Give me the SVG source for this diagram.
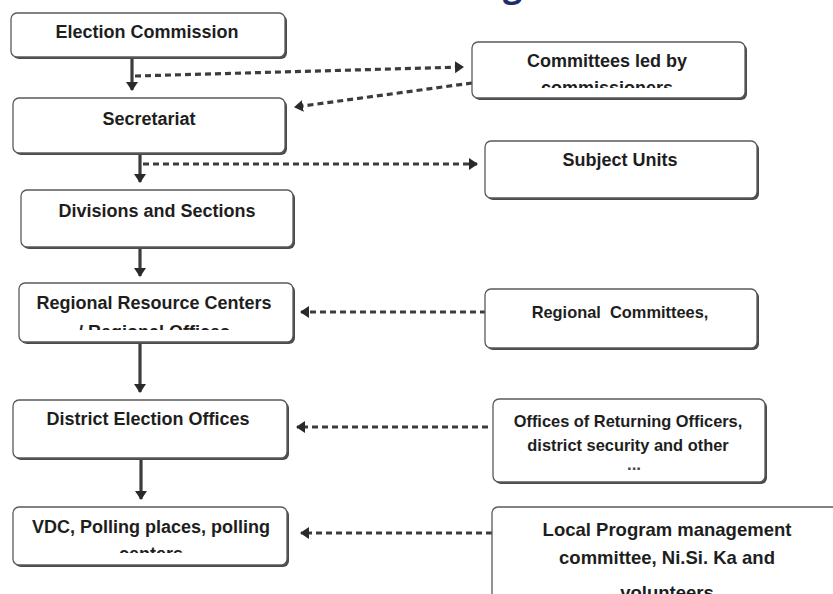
<svg xmlns="http://www.w3.org/2000/svg" width="833" height="594" viewBox="0 0 833 594">
<style>
.box{fill:#fff;stroke:#5a5a5a;stroke-width:1.3}
.sh{fill:#4a4a4a}
.t{font-family:"Liberation Sans",Arial,sans-serif;font-weight:bold;font-size:18px;fill:#1e1e1e;text-anchor:middle}
.sm{font-size:16.4px}
.big{font-size:18.5px}
.solid{stroke:#3c3c3c;stroke-width:3.2;fill:none}
.dash{stroke:#3c3c3c;stroke-width:3.2;fill:none;stroke-dasharray:6 4}
.title{font-family:"Open Sans","Liberation Sans",sans-serif;font-weight:bold;font-size:34px;fill:#1b2f6b}
</style>
<defs>
<marker id="ah" markerWidth="11" markerHeight="12" refX="8" refY="6" orient="auto" markerUnits="userSpaceOnUse">
<path d="M0,0 L9,6 L0,12 Z" fill="#2a2a2a"/>
</marker>
<clipPath id="c1"><rect x="472" y="40" width="275" height="48"/></clipPath>
<clipPath id="c2"><rect x="19" y="283" width="276" height="47"/></clipPath>
<clipPath id="c3"><rect x="13" y="507" width="276" height="46"/></clipPath>
</defs>
<text class="title" x="503" y="-3">g</text>
<g id="connectors">
<line class="solid" x1="132" y1="57" x2="132" y2="90" marker-end="url(#ah)"/>
<line class="dash" x1="135" y1="76" x2="463" y2="67" marker-end="url(#ah)"/>
<line class="dash" x1="472" y1="83" x2="295" y2="107" marker-end="url(#ah)"/>
<line class="solid" x1="140" y1="153" x2="140" y2="182" marker-end="url(#ah)"/>
<line class="dash" x1="143" y1="164" x2="477" y2="164" marker-end="url(#ah)"/>
<line class="solid" x1="140" y1="247" x2="140" y2="276" marker-end="url(#ah)"/>
<line class="dash" x1="486" y1="312" x2="301" y2="312" marker-end="url(#ah)"/>
<line class="solid" x1="140" y1="342" x2="140" y2="392" marker-end="url(#ah)"/>
<line class="dash" x1="488" y1="427" x2="297" y2="427" marker-end="url(#ah)"/>
<line class="solid" x1="141" y1="458" x2="141" y2="499" marker-end="url(#ah)"/>
<line class="dash" x1="492" y1="533" x2="301" y2="533" marker-end="url(#ah)"/>
</g>
<g id="election-commission">
<rect class="sh" x="13" y="15" width="274" height="44" rx="6"/>
<rect class="box" x="11" y="13" width="274" height="44" rx="6"/>
<text class="t" x="147" y="38">Election Commission</text>
</g>
<g id="secretariat">
<rect class="sh" x="15" y="100" width="272" height="55" rx="6"/>
<rect class="box" x="13" y="98" width="272" height="55" rx="6"/>
<text class="t" x="149" y="125">Secretariat</text>
</g>
<g id="committees">
<rect class="sh" x="474" y="44" width="273" height="56" rx="6"/>
<rect class="box" x="472" y="42" width="273" height="56" rx="6"/>
<text class="t" x="607" y="67">Committees led by</text>
<text class="t" x="607" y="94" clip-path="url(#c1)">commissioners</text>
</g>
<g id="subject-units">
<rect class="sh" x="487" y="143" width="272" height="57" rx="6"/>
<rect class="box" x="485" y="141" width="272" height="57" rx="6"/>
<text class="t" x="620" y="166">Subject Units</text>
</g>
<g id="divisions">
<rect class="sh" x="23" y="192" width="272" height="57" rx="6"/>
<rect class="box" x="21" y="190" width="272" height="57" rx="6"/>
<text class="t" x="157" y="217">Divisions and Sections</text>
</g>
<g id="regional-centers">
<rect class="sh" x="21" y="285" width="274" height="59" rx="6"/>
<rect class="box" x="19" y="283" width="274" height="59" rx="6"/>
<text class="t" x="154" y="309">Regional Resource Centers</text>
<text class="t" x="154" y="338" clip-path="url(#c2)">/ Regional Offices</text>
</g>
<g id="regional-committees">
<rect class="sh" x="487" y="291" width="272" height="59" rx="6"/>
<rect class="box" x="485" y="289" width="272" height="59" rx="6"/>
<text class="t sm" x="620" y="318" xml:space="preserve">Regional  Committees,</text>
</g>
<g id="district-offices">
<rect class="sh" x="15" y="402" width="274" height="58" rx="6"/>
<rect class="box" x="13" y="400" width="274" height="58" rx="6"/>
<text class="t" x="148" y="425">District Election Offices</text>
</g>
<g id="returning-officers">
<rect class="sh" x="495" y="401" width="272" height="83" rx="6"/>
<rect class="box" x="493" y="399" width="272" height="83" rx="6"/>
<text class="t sm" x="628" y="427">Offices of Returning Officers,</text>
<text class="t sm" x="628" y="451">district security and other</text>
<text class="t" x="634" y="470" style="font-size:17px;fill:#444">...</text>
</g>
<g id="vdc">
<rect class="sh" x="15" y="509" width="274" height="58" rx="6"/>
<rect class="box" x="13" y="507" width="274" height="58" rx="6"/>
<text class="t" x="151" y="533">VDC, Polling places, polling</text>
<text class="t" x="151" y="560" clip-path="url(#c3)">centers</text>
</g>
<g id="local-program">
<rect class="box" x="492" y="507" width="360" height="120" rx="6"/>
<text class="t big" x="667" y="536">Local Program management</text>
<text class="t big" x="667" y="564">committee, Ni.Si. Ka and</text>
<text class="t big" x="667" y="599">volunteers</text>
</g>
</svg>
